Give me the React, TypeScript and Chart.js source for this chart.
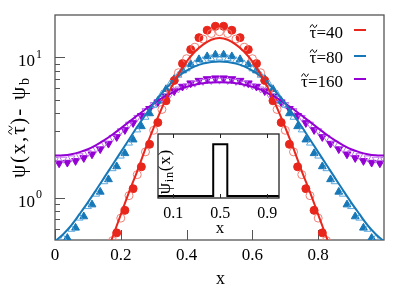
import React, { useEffect, useRef } from 'react';
import { Chart, registerables } from 'chart.js';

Chart.register(...registerables);

// ---------- data ----------
const lineX = [0, 0.025, 0.05, 0.075, 0.1, 0.125, 0.15, 0.175, 0.2, 0.225, 0.25, 0.275, 0.3, 0.325, 0.35, 0.375, 0.4, 0.425, 0.45, 0.475, 0.5,
  0.525, 0.55, 0.575, 0.6, 0.625, 0.65, 0.675, 0.7, 0.725, 0.75, 0.775, 0.8, 0.825, 0.85, 0.875, 0.9, 0.925, 0.95, 0.975, 1];

const tau40Line = [0.0447, 0.0631, 0.0891, 0.126, 0.178, 0.251, 0.363, 0.525, 0.759, 1.096, 1.549, 2.239, 3.162, 4.365, 5.888, 7.586, 9.333, 10.96, 12.30, 13.34, 13.71,
  13.34, 12.30, 10.96, 9.333, 7.586, 5.888, 4.365, 3.162, 2.239, 1.549, 1.096, 0.759, 0.525, 0.363, 0.251, 0.178, 0.126, 0.0891, 0.0631, 0.0447];
const tau80Line = [0.490, 0.550, 0.638, 0.767, 0.927, 1.135, 1.396, 1.718, 2.113, 2.600, 3.199, 3.890, 4.677, 5.559, 6.457, 7.328, 8.035, 8.610, 9.016, 9.268, 9.333,
  9.268, 9.016, 8.610, 8.035, 7.328, 6.457, 5.559, 4.677, 3.890, 3.199, 2.600, 2.113, 1.718, 1.396, 1.135, 0.927, 0.767, 0.638, 0.550, 0.490];
const tau160Line = [1.995, 2.004, 2.042, 2.113, 2.213, 2.371, 2.570, 2.818, 3.126, 3.467, 3.846, 4.266, 4.677, 5.129, 5.495, 5.888, 6.166, 6.383, 6.531, 6.607, 6.637,
  6.607, 6.531, 6.383, 6.166, 5.888, 5.495, 5.129, 4.677, 4.266, 3.846, 3.467, 3.126, 2.818, 2.570, 2.371, 2.213, 2.113, 2.042, 2.004, 1.995];

const simX = [0.0125, 0.0375, 0.0625, 0.0875, 0.1125, 0.1375, 0.1625, 0.1875, 0.2125, 0.2375, 0.2625, 0.2875, 0.3125, 0.3375, 0.3625, 0.3875, 0.4125, 0.4375, 0.4625, 0.4875,
  0.5125, 0.5375, 0.5625, 0.5875, 0.6125, 0.6375, 0.6625, 0.6875, 0.7125, 0.7375, 0.7625, 0.7875, 0.8125, 0.8375, 0.8625, 0.8875, 0.9125, 0.9375, 0.9625, 0.9875];
const tau40Sim = [null, null, null, null, null, null, 0.389, 0.562, 0.813, 1.16, 1.66, 2.40, 3.43, 4.90, 6.84, 9.02, 11.35, 13.80, 15.58, 16.63,
  16.63, 15.58, 13.80, 11.35, 9.02, 6.84, 4.90, 3.43, 2.40, 1.66, 1.16, 0.813, 0.562, 0.389, null, null, null, null, null, null];
const tau80Sim = [0.452, 0.516, 0.610, 0.735, 0.893, 1.10, 1.35, 1.67, 2.07, 2.59, 3.22, 3.98, 4.89, 5.92, 7.01, 8.04, 8.91, 9.66, 10.14, 10.43,
  10.43, 10.14, 9.66, 8.91, 8.04, 7.01, 5.92, 4.89, 3.98, 3.22, 2.59, 2.07, 1.67, 1.35, 1.10, 0.893, 0.735, 0.610, 0.516, 0.452];
const tau160Sim = [1.76, 1.78, 1.83, 1.92, 2.04, 2.22, 2.43, 2.71, 3.04, 3.41, 3.83, 4.30, 4.79, 5.28, 5.75, 6.19, 6.54, 6.82, 7.01, 7.10,
  7.10, 7.01, 6.82, 6.54, 6.19, 5.75, 5.28, 4.79, 4.30, 3.83, 3.41, 3.04, 2.71, 2.43, 2.22, 2.04, 1.92, 1.83, 1.78, 1.76];

const sim2X = [0, 0.025, 0.05, 0.075, 0.1, 0.125, 0.15, 0.175, 0.2, 0.225, 0.25, 0.275, 0.3, 0.325, 0.35, 0.375, 0.4, 0.425, 0.45, 0.475, 0.5,
  0.525, 0.55, 0.575, 0.6, 0.625, 0.65, 0.675, 0.7, 0.725, 0.75, 0.775, 0.8, 0.825, 0.85, 0.875, 0.9, 0.925, 0.95, 0.975, 1];
const tau40Sim2 = [null, null, null, null, null, null, null, 0.495, 0.716, 1.035, 1.46, 2.12, 3.02, 4.25, 5.89, 7.76, 9.77, 11.80, 13.49, 14.76, 15.21,
  14.76, 13.49, 11.80, 9.77, 7.76, 5.89, 4.25, 3.02, 2.12, 1.46, 1.035, 0.716, 0.495, null, null, null, null, null, null, null];
const tau80Sim2 = [0.457, 0.513, 0.596, 0.716, 0.865, 1.06, 1.30, 1.61, 1.98, 2.45, 3.04, 3.74, 4.55, 5.48, 6.46, 7.45, 8.27, 8.97, 9.47, 9.79, 9.89,
  9.79, 9.47, 8.97, 8.27, 7.45, 6.46, 5.48, 4.55, 3.74, 3.04, 2.45, 1.98, 1.61, 1.30, 1.06, 0.865, 0.716, 0.596, 0.513, 0.457];
const tau160Sim2 = [1.87, 1.88, 1.92, 1.99, 2.09, 2.24, 2.44, 2.69, 3.00, 3.34, 3.73, 4.17, 4.61, 5.09, 5.50, 5.94, 6.27, 6.54, 6.73, 6.83, 6.87,
  6.83, 6.73, 6.54, 6.27, 5.94, 5.50, 5.09, 4.61, 4.17, 3.73, 3.34, 3.00, 2.69, 2.44, 2.24, 2.09, 1.99, 1.92, 1.88, 1.87];

// legend: tau (with tilde) followed by these
const seriesLabelValues = ['=40', '=80', '=160'];
const seriesColors = ['#e8261c', '#1778b8', '#9400d3'];
const seriesLight = ['#f27d74', '#5ba7dd', '#bf6aee'];

const xTicks = [0, 0.2, 0.4, 0.6, 0.8];
const xTickLabels = ['0', '0.2', '0.4', '0.6', '0.8'];
const yMajorTicks = [1, 10];
const yMajorExponents = ['0', '1'];
const yMinorTicks = [0.6, 0.7, 0.8, 0.9, 2, 3, 4, 5, 6, 7, 8, 9];

const insetX = [-0.03, 0.44, 0.44, 0.56, 0.56, 1.0];
const insetY = [0, 0, 1, 1, 0, 0];
const insetTicks = [0.1, 0.5, 0.9];
const insetTickLabels = ['0.1', '0.5', '0.9'];

const SERIF = '"Liberation Serif", "DejaVu Serif", serif';

function pts(xs: number[], ys: (number | null)[]) {
  return xs.map((x, i) => ({ x, y: ys[i] }));
}

type Seg = { t: string; size: number; dy?: number; tilde?: boolean };

function segWidth(ctx: CanvasRenderingContext2D, segs: Seg[], gap = 0) {
  let w = 0;
  segs.forEach((s) => {
    ctx.font = `${s.size}px ${SERIF}`;
    for (const ch of s.t) w += ctx.measureText(ch).width + gap;
  });
  return w - gap;
}

// draws rich text starting at x (left), baseline y; tilde drawn as a small path
function drawSegs(ctx: CanvasRenderingContext2D, segs: Seg[], x: number, y: number, gap = 0) {
  let cx = x;
  ctx.textAlign = 'left';
  ctx.textBaseline = 'alphabetic';
  segs.forEach((s) => {
    ctx.font = `${s.size}px ${SERIF}`;
    for (const ch of s.t) {
      const w = ctx.measureText(ch).width;
      ctx.fillText(ch, cx, y + (s.dy || 0));
      if (s.tilde) {
        const mx = cx + w / 2 + 0.5;
        const ty = y + (s.dy || 0) - s.size * 0.7;
        const tw = s.size * 0.4;
        const th = s.size * 0.08;
        ctx.save();
        ctx.strokeStyle = ctx.fillStyle as string;
        ctx.lineWidth = 1;
        ctx.beginPath();
        ctx.moveTo(mx - tw / 2, ty + th);
        ctx.bezierCurveTo(mx - tw / 4, ty - th * 2, mx - tw / 12, ty - th * 1.2, mx, ty);
        ctx.bezierCurveTo(mx + tw / 12, ty + th * 1.2, mx + tw / 4, ty + th * 2, mx + tw / 2, ty - th);
        ctx.stroke();
        ctx.restore();
      }
      cx += w + gap;
    }
  });
  return cx - x;
}

const mainDecor = {
  id: 'mainDecor',
  beforeDatasetsDraw(chart: any) {
    const { ctx, chartArea: a, scales } = chart;
    const xs = scales.x, ys = scales.y;
    ctx.save();
    ctx.strokeStyle = '#555';
    ctx.lineWidth = 1.3;
    ctx.strokeRect(a.left, a.top, a.right - a.left, a.bottom - a.top);
    ctx.lineWidth = 1;
    ctx.beginPath();
    xTicks.forEach((v) => {
      const px = Math.round(xs.getPixelForValue(v)) + 0.5;
      ctx.moveTo(px, a.bottom);
      ctx.lineTo(px, a.bottom - 10);
    });
    yMajorTicks.forEach((v) => {
      const py = Math.round(ys.getPixelForValue(v)) + 0.5;
      ctx.moveTo(a.left, py);
      ctx.lineTo(a.left + 10, py);
    });
    yMinorTicks.forEach((v) => {
      const py = Math.round(ys.getPixelForValue(v)) + 0.5;
      ctx.moveTo(a.left, py);
      ctx.lineTo(a.left + 5, py);
    });
    ctx.stroke();
    ctx.restore();
  },
  afterDraw(chart: any) {
    const { ctx, chartArea: a, scales } = chart;
    const ys = scales.y;
    ctx.save();
    ctx.fillStyle = '#000';
    // y tick labels 10^n
    yMajorTicks.forEach((v, i) => {
      const py = ys.getPixelForValue(v);
      ctx.font = `17px ${SERIF}`;
      ctx.textAlign = 'right';
      ctx.textBaseline = 'alphabetic';
      ctx.fillText('10', 35, py + 9);
      ctx.font = `12px ${SERIF}`;
      ctx.textAlign = 'left';
      ctx.fillText(yMajorExponents[i], 36, py + 0.5);
    });
    // y title
    ctx.save();
    ctx.translate(0, 128);
    ctx.rotate(-Math.PI / 2);
    const title: Seg[] = [
      { t: '\u03C8(x,', size: 21 },
      { t: '\u03C4', size: 21, tilde: true },
      { t: ')- \u03C8', size: 21 },
      { t: 'b', size: 14, dy: 4 },
    ];
    const gap = 1.8;
    const tw = segWidth(ctx, title, gap);
    drawSegs(ctx, title, -tw / 2, 25, gap);
    ctx.restore();
    // x title
    ctx.font = `18px ${SERIF}`;
    ctx.textAlign = 'center';
    ctx.textBaseline = 'alphabetic';
    ctx.fillText('x', (a.left + a.right) / 2 + 1, 284);
    // legend
    const lineYs = [30, 56, 79];
    const textYs = [38, 63, 87];
    seriesLabelValues.forEach((lab, i) => {
      const segs: Seg[] = [
        { t: '\u03C4', size: 17, tilde: true },
        { t: lab, size: 17 },
      ];
      ctx.fillStyle = '#000';
      const w = segWidth(ctx, segs);
      drawSegs(ctx, segs, 343 - w, textYs[i]);
      ctx.strokeStyle = seriesColors[i];
      ctx.lineWidth = 2;
      ctx.beginPath();
      ctx.moveTo(354, lineYs[i]);
      ctx.lineTo(366, lineYs[i]);
      ctx.stroke();
    });
    ctx.restore();
  },
};

const insetDecor = {
  id: 'insetDecor',
  beforeDatasetsDraw(chart: any) {
    const { ctx, chartArea: a } = chart;
    ctx.save();
    ctx.fillStyle = '#fff';
    ctx.fillRect(a.left, a.top, a.right - a.left, a.bottom - a.top);
    ctx.restore();
  },
  afterDraw(chart: any) {
    const { ctx, chartArea: a, scales } = chart;
    const xs = scales.x;
    ctx.save();
    ctx.strokeStyle = '#222';
    ctx.lineWidth = 1.3;
    ctx.strokeRect(a.left, a.top, a.right - a.left, a.bottom - a.top);
    ctx.lineWidth = 1;
    ctx.beginPath();
    insetTicks.forEach((v) => {
      const px = Math.round(xs.getPixelForValue(v)) + 0.5;
      ctx.moveTo(px, a.top);
      ctx.lineTo(px, a.top + 4);
      ctx.moveTo(px, a.bottom);
      ctx.lineTo(px, a.bottom - 4);
    });
    ctx.stroke();
    // y title psi_in(x)
    ctx.save();
    ctx.translate(0, 47);
    ctx.rotate(-Math.PI / 2);
    ctx.fillStyle = '#000';
    const segs: Seg[] = [
      { t: '\u03C8', size: 18 },
      { t: 'in', size: 12, dy: 3 },
      { t: '(x)', size: 17 },
    ];
    const w = segWidth(ctx, segs, 0.8);
    drawSegs(ctx, segs, -w / 2, 20, 0.8);
    ctx.restore();
    // x title
    ctx.font = `17px ${SERIF}`;
    ctx.textAlign = 'center';
    ctx.textBaseline = 'alphabetic';
    ctx.fillStyle = '#000';
    ctx.fillText('x', 70, 108);
    ctx.restore();
  },
};

export default function App() {
  const mainRef = useRef<HTMLCanvasElement>(null);
  const insetRef = useRef<HTMLCanvasElement>(null);

  useEffect(() => {
    document.body.style.margin = '0';
    const lineSets = [tau40Line, tau80Line, tau160Line];
    const simSets = [tau40Sim, tau80Sim, tau160Sim];
    const sim2Sets = [tau40Sim2, tau80Sim2, tau160Sim2];
    const styles = ['circle', 'triangle', 'triangle'];
    const rots = [0, 0, 180];
    const datasets: any[] = [];
    lineSets.forEach((ys, i) => {
      datasets.push({
        data: pts(lineX, ys),
        showLine: true,
        borderColor: seriesColors[i],
        borderWidth: 2,
        pointRadius: 0,
        cubicInterpolationMode: 'monotone',
        fill: false,
        clip: 0,
        order: i,
      });
    });
    simSets.forEach((ys, i) => {
      datasets.push({
        data: pts(simX, ys),
        showLine: false,
        pointStyle: styles[i],
        rotation: rots[i],
        pointRadius: i === 0 ? 4 : 4.5,
        backgroundColor: seriesColors[i],
        borderColor: seriesColors[i],
        borderWidth: 1,
        clip: 0,
        order: 10 + i,
      });
    });
    sim2Sets.forEach((ys, i) => {
      datasets.push({
        data: pts(sim2X, ys),
        showLine: false,
        pointStyle: styles[i],
        rotation: rots[i],
        pointRadius: 4,
        backgroundColor: 'rgba(255,255,255,0)',
        borderColor: seriesLight[i],
        borderWidth: 1,
        clip: 0,
        order: 5 + i,
      });
    });

    const main = new Chart(mainRef.current!, {
      type: 'scatter',
      data: { datasets },
      options: {
        responsive: false,
        animation: false,
        devicePixelRatio: 1,
        events: [],
        layout: { padding: { top: 15, right: 27, left: 0, bottom: 0 } },
        plugins: { legend: { display: false }, tooltip: { enabled: false } },
        scales: {
          x: {
            type: 'linear',
            min: 0,
            max: 1,
            grid: { display: false, drawTicks: false },
            border: { display: false },
            afterBuildTicks: (s: any) => {
              s.ticks = xTicks.map((v) => ({ value: v }));
            },
            afterFit: (s: any) => {
              s.height = 48;
            },
            ticks: {
              autoSkip: false,
              maxRotation: 0,
              padding: 5,
              color: '#000',
              font: { family: SERIF, size: 17 },
              callback: (_v: any, i: number) => xTickLabels[i] ?? '',
            },
          },
          y: {
            type: 'logarithmic',
            min: 0.5,
            max: 20,
            grid: { display: false, drawTicks: false },
            border: { display: false },
            ticks: { display: false },
            afterFit: (s: any) => {
              s.width = 55;
            },
          },
        },
      } as any,
      plugins: [mainDecor],
    });

    const inset = new Chart(insetRef.current!, {
      type: 'scatter',
      data: {
        datasets: [
          {
            data: pts(insetX, insetY),
            showLine: true,
            borderColor: '#000',
            borderWidth: 2,
            pointRadius: 0,
            tension: 0,
            fill: false,
            clip: 0,
          },
        ],
      },
      options: {
        responsive: false,
        animation: false,
        devicePixelRatio: 1,
        events: [],
        layout: { padding: { top: 9, right: 11, left: 8, bottom: 0 } },
        plugins: { legend: { display: false }, tooltip: { enabled: false } },
        scales: {
          x: {
            type: 'linear',
            min: -0.03,
            max: 1.0,
            grid: { display: false, drawTicks: false },
            border: { display: false },
            afterBuildTicks: (s: any) => {
              s.ticks = insetTicks.map((v) => ({ value: v }));
            },
            afterFit: (s: any) => {
              s.height = 37;
            },
            ticks: {
              autoSkip: false,
              maxRotation: 0,
              padding: 6,
              color: '#000',
              font: { family: SERIF, size: 16 },
              callback: (_v: any, i: number) => insetTickLabels[i] ?? '',
            },
          },
          y: {
            type: 'linear',
            display: false,
            min: -0.04,
            max: 1.2,
          },
        },
      } as any,
      plugins: [insetDecor],
    });

    return () => {
      main.destroy();
      inset.destroy();
    };
  }, []);

  return (
    <div style={{ position: 'relative', width: 411, height: 288, background: '#fff' }}>
      <canvas ref={mainRef} width={411} height={288} style={{ position: 'absolute', left: 0, top: 0, width: 411, height: 288 }} />
      <canvas ref={insetRef} width={140} height={110} style={{ position: 'absolute', left: 150, top: 125, width: 140, height: 110 }} />
    </div>
  );
}
